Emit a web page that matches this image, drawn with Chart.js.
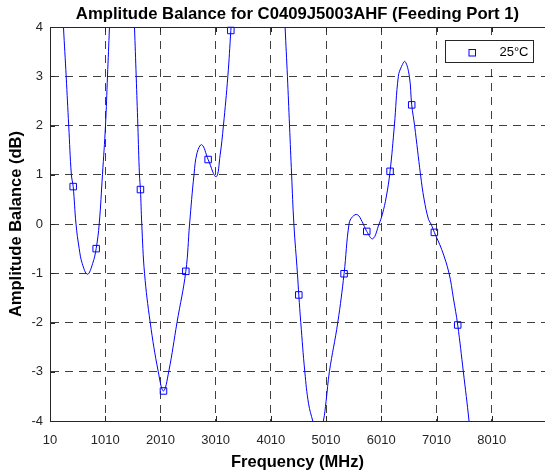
<!DOCTYPE html>
<html>
<head>
<meta charset="utf-8">
<script src="https://cdn.jsdelivr.net/npm/chart.js@4.4.1/dist/chart.umd.min.js"></script>
<style>
  html, body { margin: 0; padding: 0; background: #fff; overflow: hidden; }
</style>
</head>
<body>
<canvas id="chart" width="545" height="474"></canvas>
<script>
// Curve (MHz, dB); values above 4 / below -4 are clipped by the axes
const freqMHz = [10,104,195,254,303,349,397,430,481,539,593,689,783,846,901,960,1015,1051,1087,1127,
  1313,1504,1540,1571,1601,1630,1648,1672,1722,1825,1971,2065,2160,2310,2470,2538,2618,2675,2760,2874,
  3019,3091,3151,3231,3285,3327,3779,4232,4268,4310,4348,4386,4427,4491,4516,4552,4625,4693,4769,4865,
  4961,5010,5070,5222,5336,5426,5490,5577,5662,5747,5856,5970,6030,6100,6169,6247,6319,6377,6440,6518,
  6561,6613,6721,6784,6866,6911,6971,7105,7237,7315,7394,7496,7599,7653,7762];
const balanceDb = [9.2,7.3,5.3,4.0,3.0,2.0,1.0,0.76,0.0,-0.5,-0.8,-1.02,-0.8,-0.5,0.0,1.0,2.0,3.0,4.0,5.2,
  9.0,5.0,4.0,3.0,2.0,1.0,0.70,0.0,-1.0,-2.0,-3.0,-3.39,-3.0,-2.0,-0.96,0.0,1.0,1.45,1.61,1.31,
  0.96,1.4,2.0,3.0,3.93,4.7,10,5.0,4.0,3.0,2.0,1.0,0.0,-1.0,-1.44,-2.0,-3.0,-3.65,-4.0,-4.4,
  -4.0,-3.6,-3.0,-2.0,-1.01,0.0,0.15,0.19,0.05,-0.15,-0.30,0.0,0.2,0.55,1.07,2.0,3.0,3.2,3.3,3.0,
  2.42,2.0,1.0,0.51,0.09,0.0,-0.17,-0.52,-1.0,-1.5,-2.05,-3.0,-4.0,-4.7,-5.8];

// Measured points shown with square markers
const markerFreqMHz = [430,846,1648,2065,2470,2874,3285,4516,5336,5747,6169,6561,6971,7394];
const markerBalanceDb = [0.76,-0.50,0.70,-3.39,-0.96,1.31,3.93,-1.44,-1.01,-0.15,1.07,2.42,-0.17,-2.05];

const xTicks = [10,1010,2010,3010,4010,5010,6010,7010,8010];
const yTicks = [-4,-3,-2,-1,0,1,2,3,4];
const legendLabel = '25°C';

const axisColor = '#262626';
const lineBlue = 'rgb(0,0,255)';
Chart.defaults.font.family = "'Liberation Sans', Arial, Helvetica, sans-serif";
Chart.defaults.color = axisColor;

// MATLAB-like box: top edge, inward ticks and the inset legend
const boxPlugin = {
  id: 'matlabBox',
  afterDraw(chart) {
    const {ctx, chartArea: a, scales: {x, y}} = chart;
    ctx.save();
    ctx.strokeStyle = axisColor;
    ctx.lineWidth = 1;
    ctx.beginPath();
    const top = Math.round(a.top) + 0.5;
    ctx.moveTo(a.left, top);
    ctx.lineTo(a.right, top);
    xTicks.forEach(v => {
      const px = Math.round(x.getPixelForValue(v)) + 0.5;
      ctx.moveTo(px, a.bottom); ctx.lineTo(px, a.bottom - 5);
      ctx.moveTo(px, a.top); ctx.lineTo(px, a.top + 5);
    });
    yTicks.forEach(v => {
      const py = Math.round(y.getPixelForValue(v)) + 0.5;
      ctx.moveTo(a.left, py); ctx.lineTo(a.left + 5, py);
    });
    ctx.stroke();

    // legend
    ctx.fillStyle = '#fff';
    ctx.fillRect(445.5, 40.5, 88, 22);
    ctx.strokeRect(445.5, 40.5, 88, 22);
    ctx.strokeStyle = lineBlue;
    ctx.strokeRect(469, 49.5, 6.5, 6.5);
    ctx.fillStyle = '#000';
    ctx.font = "13px 'Liberation Sans', Arial, sans-serif";
    ctx.textAlign = 'right';
    ctx.textBaseline = 'middle';
    ctx.fillText(legendLabel, 528.5, 52.5);
    ctx.restore();
  }
};

const chart = new Chart(document.getElementById('chart').getContext('2d'), {
  type: 'scatter',
  data: {
    datasets: [{
      label: legendLabel,
      data: freqMHz.map((f, i) => ({x: f, y: balanceDb[i]})),
      showLine: true,
      borderColor: lineBlue,
      borderWidth: 1,
      pointRadius: 0,
      tension: 0.4,
      fill: false
    }, {
      label: legendLabel + ' markers',
      data: markerFreqMHz.map((f, i) => ({x: f, y: markerBalanceDb[i]})),
      showLine: false,
      pointStyle: 'rect',
      pointRadius: 4.6,
      borderColor: lineBlue,
      backgroundColor: 'rgba(0,0,0,0)',
      borderWidth: 1,
      clip: false
    }]
  },
  options: {
    responsive: false,
    animation: false,
    layout: { padding: 0, autoPadding: false },
    plugins: {
      legend: { display: false },
      tooltip: { enabled: false },
      title: {
        display: true,
        fullSize: false,
        text: 'Amplitude Balance for C0409J5003AHF (Feeding Port 1)',
        color: '#000',
        font: { size: 16.7, weight: 'bold' },
        padding: { top: 4.5, bottom: 2.5 }
      }
    },
    scales: {
      x: {
        type: 'linear',
        min: 10,
        max: 8975,
        afterBuildTicks: s => { s.ticks = xTicks.map(v => ({value: v})); },
        afterFit: s => { s.height = 53; },
        ticks: { font: { size: 13 }, color: axisColor, padding: 11.5, maxRotation: 0, callback: v => String(v) },
        grid: { color: 'rgba(0,0,0,0.75)', lineWidth: 1, drawTicks: false },
        border: { display: true, color: axisColor, width: 1, dash: [8, 6] },
        title: {
          display: true, text: 'Frequency (MHz)', color: '#000',
          font: { size: 16.5, weight: 'bold' }, padding: { top: 0, bottom: 2 }
        }
      },
      y: {
        min: -4,
        max: 4,
        afterBuildTicks: s => { s.ticks = yTicks.map(v => ({value: v})); },
        afterFit: s => { s.width = 50; },
        ticks: { font: { size: 13 }, color: axisColor, padding: 7, callback: v => String(v) },
        grid: { color: 'rgba(0,0,0,0.75)', lineWidth: 1, drawTicks: false },
        border: { display: true, color: axisColor, width: 1, dash: [8, 6] },
        title: {
          display: true, text: 'Amplitude Balance (dB)', color: '#000',
          font: { size: 16.5, weight: 'bold' }, padding: { top: 7, bottom: 0 }
        }
      }
    }
  },
  plugins: [boxPlugin]
});
</script>
</body>
</html>
